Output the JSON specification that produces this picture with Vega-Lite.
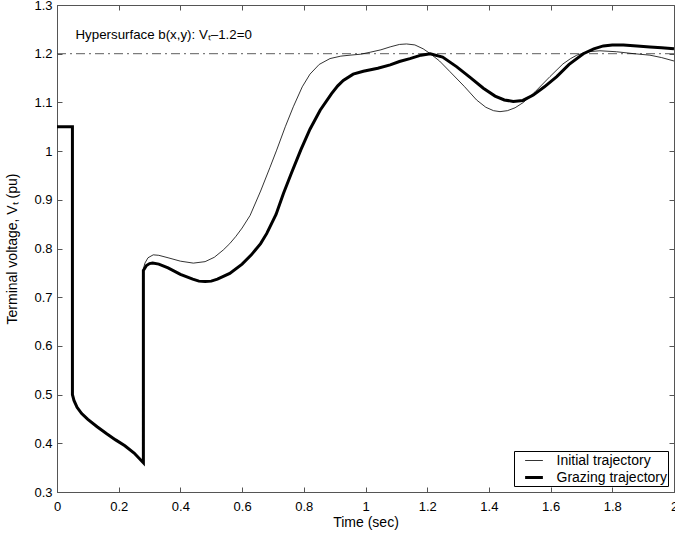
{
  "$schema": "https://vega.github.io/schema/vega-lite/v6.json",
  "autosize": "none",
  "width": 617,
  "height": 487,
  "padding": {"left": 57, "top": 5, "right": 1, "bottom": 41},
  "background": "white",
  "config": {
    "font": "Liberation Sans",
    "view": {"stroke": "#555", "strokeWidth": 1},
    "axis": {
      "grid": false,
      "domainColor": "#555",
      "tickColor": "#555",
      "tickSize": -5,
      "labelFontSize": 13,
      "labelColor": "black",
      "titleFontSize": 14,
      "titleFontWeight": "normal",
      "titleColor": "black",
      "labelFont": "Liberation Sans",
      "titleFont": "Liberation Sans",
      "labelFlush": false
    },
    "legend": {
      "labelFont": "Liberation Sans",
      "labelFontSize": 14,
      "labelColor": "black"
    }
  },
  "datasets": {
    "lines": [
      {"t": 0, "v": 1.05, "s": "Initial trajectory"},
      {"t": 0.05, "v": 1.05, "s": "Initial trajectory"},
      {"t": 0.05, "v": 0.5, "s": "Initial trajectory"},
      {"t": 0.055, "v": 0.488, "s": "Initial trajectory"},
      {"t": 0.065, "v": 0.474, "s": "Initial trajectory"},
      {"t": 0.08, "v": 0.461, "s": "Initial trajectory"},
      {"t": 0.1, "v": 0.449, "s": "Initial trajectory"},
      {"t": 0.13, "v": 0.434, "s": "Initial trajectory"},
      {"t": 0.16, "v": 0.42, "s": "Initial trajectory"},
      {"t": 0.19, "v": 0.407, "s": "Initial trajectory"},
      {"t": 0.22, "v": 0.395, "s": "Initial trajectory"},
      {"t": 0.25, "v": 0.38, "s": "Initial trajectory"},
      {"t": 0.28, "v": 0.36, "s": "Initial trajectory"},
      {"t": 0.28, "v": 0.758, "s": "Initial trajectory"},
      {"t": 0.285, "v": 0.77, "s": "Initial trajectory"},
      {"t": 0.295, "v": 0.781, "s": "Initial trajectory"},
      {"t": 0.312, "v": 0.787, "s": "Initial trajectory"},
      {"t": 0.33, "v": 0.786, "s": "Initial trajectory"},
      {"t": 0.36, "v": 0.781, "s": "Initial trajectory"},
      {"t": 0.4, "v": 0.774, "s": "Initial trajectory"},
      {"t": 0.442, "v": 0.77, "s": "Initial trajectory"},
      {"t": 0.48, "v": 0.773, "s": "Initial trajectory"},
      {"t": 0.51, "v": 0.782, "s": "Initial trajectory"},
      {"t": 0.539, "v": 0.797, "s": "Initial trajectory"},
      {"t": 0.56, "v": 0.81, "s": "Initial trajectory"},
      {"t": 0.58, "v": 0.825, "s": "Initial trajectory"},
      {"t": 0.6, "v": 0.842, "s": "Initial trajectory"},
      {"t": 0.626, "v": 0.868, "s": "Initial trajectory"},
      {"t": 0.66, "v": 0.918, "s": "Initial trajectory"},
      {"t": 0.69, "v": 0.966, "s": "Initial trajectory"},
      {"t": 0.712, "v": 1.002, "s": "Initial trajectory"},
      {"t": 0.74, "v": 1.05, "s": "Initial trajectory"},
      {"t": 0.766, "v": 1.091, "s": "Initial trajectory"},
      {"t": 0.795, "v": 1.132, "s": "Initial trajectory"},
      {"t": 0.82, "v": 1.158, "s": "Initial trajectory"},
      {"t": 0.85, "v": 1.178, "s": "Initial trajectory"},
      {"t": 0.885, "v": 1.19, "s": "Initial trajectory"},
      {"t": 0.92, "v": 1.195, "s": "Initial trajectory"},
      {"t": 0.95, "v": 1.197, "s": "Initial trajectory"},
      {"t": 0.985, "v": 1.199, "s": "Initial trajectory"},
      {"t": 1.015, "v": 1.203, "s": "Initial trajectory"},
      {"t": 1.05, "v": 1.208, "s": "Initial trajectory"},
      {"t": 1.08, "v": 1.214, "s": "Initial trajectory"},
      {"t": 1.11, "v": 1.219, "s": "Initial trajectory"},
      {"t": 1.133, "v": 1.22, "s": "Initial trajectory"},
      {"t": 1.16, "v": 1.218, "s": "Initial trajectory"},
      {"t": 1.187, "v": 1.21, "s": "Initial trajectory"},
      {"t": 1.21, "v": 1.2, "s": "Initial trajectory"},
      {"t": 1.24, "v": 1.185, "s": "Initial trajectory"},
      {"t": 1.274, "v": 1.163, "s": "Initial trajectory"},
      {"t": 1.32, "v": 1.133, "s": "Initial trajectory"},
      {"t": 1.36, "v": 1.105, "s": "Initial trajectory"},
      {"t": 1.39, "v": 1.09, "s": "Initial trajectory"},
      {"t": 1.415, "v": 1.083, "s": "Initial trajectory"},
      {"t": 1.436, "v": 1.081, "s": "Initial trajectory"},
      {"t": 1.46, "v": 1.083, "s": "Initial trajectory"},
      {"t": 1.485, "v": 1.089, "s": "Initial trajectory"},
      {"t": 1.512, "v": 1.1, "s": "Initial trajectory"},
      {"t": 1.55, "v": 1.122, "s": "Initial trajectory"},
      {"t": 1.598, "v": 1.153, "s": "Initial trajectory"},
      {"t": 1.64, "v": 1.179, "s": "Initial trajectory"},
      {"t": 1.665, "v": 1.19, "s": "Initial trajectory"},
      {"t": 1.685, "v": 1.197, "s": "Initial trajectory"},
      {"t": 1.72, "v": 1.204, "s": "Initial trajectory"},
      {"t": 1.76, "v": 1.206, "s": "Initial trajectory"},
      {"t": 1.814, "v": 1.204, "s": "Initial trajectory"},
      {"t": 1.87, "v": 1.2, "s": "Initial trajectory"},
      {"t": 1.922, "v": 1.197, "s": "Initial trajectory"},
      {"t": 1.96, "v": 1.192, "s": "Initial trajectory"},
      {"t": 2.0, "v": 1.185, "s": "Initial trajectory"},
      {"t": 0, "v": 1.05, "s": "Grazing trajectory"},
      {"t": 0.05, "v": 1.05, "s": "Grazing trajectory"},
      {"t": 0.05, "v": 0.5, "s": "Grazing trajectory"},
      {"t": 0.055, "v": 0.488, "s": "Grazing trajectory"},
      {"t": 0.065, "v": 0.474, "s": "Grazing trajectory"},
      {"t": 0.08, "v": 0.461, "s": "Grazing trajectory"},
      {"t": 0.1, "v": 0.449, "s": "Grazing trajectory"},
      {"t": 0.13, "v": 0.434, "s": "Grazing trajectory"},
      {"t": 0.16, "v": 0.42, "s": "Grazing trajectory"},
      {"t": 0.19, "v": 0.407, "s": "Grazing trajectory"},
      {"t": 0.22, "v": 0.395, "s": "Grazing trajectory"},
      {"t": 0.25, "v": 0.38, "s": "Grazing trajectory"},
      {"t": 0.28, "v": 0.36, "s": "Grazing trajectory"},
      {"t": 0.28, "v": 0.755, "s": "Grazing trajectory"},
      {"t": 0.29, "v": 0.765, "s": "Grazing trajectory"},
      {"t": 0.3, "v": 0.769, "s": "Grazing trajectory"},
      {"t": 0.31, "v": 0.77, "s": "Grazing trajectory"},
      {"t": 0.33, "v": 0.768, "s": "Grazing trajectory"},
      {"t": 0.36, "v": 0.76, "s": "Grazing trajectory"},
      {"t": 0.4, "v": 0.747, "s": "Grazing trajectory"},
      {"t": 0.44, "v": 0.737, "s": "Grazing trajectory"},
      {"t": 0.46, "v": 0.733, "s": "Grazing trajectory"},
      {"t": 0.48, "v": 0.732, "s": "Grazing trajectory"},
      {"t": 0.5, "v": 0.733, "s": "Grazing trajectory"},
      {"t": 0.52, "v": 0.737, "s": "Grazing trajectory"},
      {"t": 0.56, "v": 0.749, "s": "Grazing trajectory"},
      {"t": 0.6, "v": 0.768, "s": "Grazing trajectory"},
      {"t": 0.63, "v": 0.787, "s": "Grazing trajectory"},
      {"t": 0.66, "v": 0.81, "s": "Grazing trajectory"},
      {"t": 0.68, "v": 0.831, "s": "Grazing trajectory"},
      {"t": 0.71, "v": 0.87, "s": "Grazing trajectory"},
      {"t": 0.734, "v": 0.913, "s": "Grazing trajectory"},
      {"t": 0.76, "v": 0.955, "s": "Grazing trajectory"},
      {"t": 0.79, "v": 1.002, "s": "Grazing trajectory"},
      {"t": 0.82, "v": 1.045, "s": "Grazing trajectory"},
      {"t": 0.853, "v": 1.084, "s": "Grazing trajectory"},
      {"t": 0.89, "v": 1.118, "s": "Grazing trajectory"},
      {"t": 0.91, "v": 1.134, "s": "Grazing trajectory"},
      {"t": 0.928, "v": 1.145, "s": "Grazing trajectory"},
      {"t": 0.96, "v": 1.158, "s": "Grazing trajectory"},
      {"t": 0.993, "v": 1.164, "s": "Grazing trajectory"},
      {"t": 1.04, "v": 1.17, "s": "Grazing trajectory"},
      {"t": 1.08, "v": 1.177, "s": "Grazing trajectory"},
      {"t": 1.11, "v": 1.184, "s": "Grazing trajectory"},
      {"t": 1.144, "v": 1.19, "s": "Grazing trajectory"},
      {"t": 1.18, "v": 1.197, "s": "Grazing trajectory"},
      {"t": 1.21, "v": 1.2, "s": "Grazing trajectory"},
      {"t": 1.25, "v": 1.193, "s": "Grazing trajectory"},
      {"t": 1.296, "v": 1.173, "s": "Grazing trajectory"},
      {"t": 1.34, "v": 1.151, "s": "Grazing trajectory"},
      {"t": 1.382, "v": 1.129, "s": "Grazing trajectory"},
      {"t": 1.42, "v": 1.113, "s": "Grazing trajectory"},
      {"t": 1.45, "v": 1.105, "s": "Grazing trajectory"},
      {"t": 1.479, "v": 1.102, "s": "Grazing trajectory"},
      {"t": 1.51, "v": 1.104, "s": "Grazing trajectory"},
      {"t": 1.544, "v": 1.115, "s": "Grazing trajectory"},
      {"t": 1.58, "v": 1.132, "s": "Grazing trajectory"},
      {"t": 1.62, "v": 1.153, "s": "Grazing trajectory"},
      {"t": 1.66, "v": 1.178, "s": "Grazing trajectory"},
      {"t": 1.706, "v": 1.2, "s": "Grazing trajectory"},
      {"t": 1.74, "v": 1.21, "s": "Grazing trajectory"},
      {"t": 1.771, "v": 1.216, "s": "Grazing trajectory"},
      {"t": 1.8, "v": 1.218, "s": "Grazing trajectory"},
      {"t": 1.836, "v": 1.218, "s": "Grazing trajectory"},
      {"t": 1.88, "v": 1.216, "s": "Grazing trajectory"},
      {"t": 1.922, "v": 1.214, "s": "Grazing trajectory"},
      {"t": 1.96, "v": 1.212, "s": "Grazing trajectory"},
      {"t": 2.0, "v": 1.21, "s": "Grazing trajectory"}
    ]
  },
  "layer": [
    {
      "data": {"values": [{"level": 1.2}]},
      "mark": {"type": "rule", "color": "#333", "strokeWidth": 0.8, "strokeDash": [9, 4, 2, 4]},
      "encoding": {
        "y": {"field": "level", "type": "quantitative", "scale": {"domain": [0.3, 1.3]}, "axis": null}
      }
    },
    {
      "data": {"values": [{"t": 0.06, "v": 1.238, "label": "Hypersurface b(x,y): Vₜ–1.2=0"}]},
      "mark": {"type": "text", "align": "left", "baseline": "middle", "fontSize": 13.3, "font": "Liberation Sans", "color": "black"},
      "encoding": {
        "x": {"field": "t", "type": "quantitative", "scale": {"domain": [0, 2]}, "axis": null},
        "y": {"field": "v", "type": "quantitative", "axis": null},
        "text": {"field": "label"}
      }
    },
    {
      "data": {"name": "lines"},
      "mark": {"type": "point", "opacity": 0},
      "encoding": {
        "x": {"field": "t", "type": "quantitative", "scale": {"domain": [0, 2]},
              "axis": {"orient": "top", "labels": false, "title": null, "values": [0, 0.2, 0.4, 0.6, 0.8, 1, 1.2, 1.4, 1.6, 1.8, 2], "domain": false}},
        "y": {"field": "v", "type": "quantitative", "scale": {"domain": [0.3, 1.3]},
              "axis": {"orient": "right", "labels": false, "title": null, "values": [0.3, 0.4, 0.5, 0.6, 0.7, 0.8, 0.9, 1, 1.1, 1.2, 1.3], "domain": false}}
      }
    },
    {
      "data": {"name": "lines"},
      "mark": {"type": "line", "interpolate": "linear", "strokeJoin": "miter"},
      "encoding": {
        "x": {"field": "t", "type": "quantitative", "scale": {"domain": [0, 2]},
              "axis": {"orient": "bottom", "title": "Time (sec)", "format": ".1~f", "values": [0, 0.2, 0.4, 0.6, 0.8, 1, 1.2, 1.4, 1.6, 1.8, 2], "labelPadding": 13, "titlePadding": 2, "labelBound": false, "labelOverlap": false}},
        "y": {"field": "v", "type": "quantitative", "scale": {"domain": [0.3, 1.3]},
              "axis": {"orient": "left", "title": "Terminal voltage, Vₜ (pu)", "format": ".1~f", "values": [0.3, 0.4, 0.5, 0.6, 0.7, 0.8, 0.9, 1, 1.1, 1.2, 1.3], "labelPadding": 10, "titlePadding": 14}},
        "color": {"field": "s", "type": "nominal", "scale": {"domain": ["Initial trajectory", "Grazing trajectory"], "range": ["black", "black"]},
                  "legend": {"title": null, "orient": "bottom-right", "offset": 6, "padding": 1, "strokeColor": "black", "fillColor": "white", "symbolType": "M-1.11,0L1.11,0", "symbolSize": 256, "symbolOffset": 9.5, "cornerRadius": 0, "rowPadding": 0, "labelOffset": 13}},
        "strokeWidth": {"field": "s", "type": "nominal", "scale": {"domain": ["Initial trajectory", "Grazing trajectory"], "range": [0.8, 3]}, "legend": {"title": null, "orient": "bottom-right", "offset": 6, "padding": 1, "strokeColor": "black", "fillColor": "white", "symbolType": "M-1.11,0L1.11,0", "symbolSize": 256, "symbolOffset": 9.5, "cornerRadius": 0, "rowPadding": 0, "labelOffset": 13}}
      }
    }
  ],
  "resolve": {"axis": {"x": "independent", "y": "independent"}}
}
